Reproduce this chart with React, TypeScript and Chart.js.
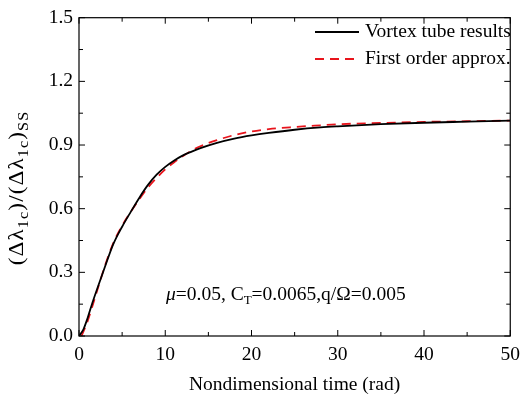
import React, { useEffect, useRef } from "react";
import { Chart, registerables } from "chart.js";

Chart.register(...registerables);

// Nondimensional time (rad) and response for the vortex tube results
const timeVortex = [0, 0.5, 1, 1.5, 2, 3, 4, 5, 6, 7, 8, 9, 10, 11, 12, 13, 14, 16, 18, 20, 22, 25, 28, 30, 35, 40, 45, 50];
const vortexTube = [0, 0.03, 0.085, 0.15, 0.21, 0.325, 0.435, 0.515, 0.585, 0.652, 0.712, 0.76, 0.797, 0.826, 0.85, 0.868, 0.884, 0.91, 0.93, 0.945, 0.957, 0.972, 0.983, 0.988, 0.998, 1.005, 1.01, 1.015];

// First order approximation
const timeFirst = [0.3, 1, 2, 3, 4, 5, 6, 7, 8, 9, 10, 11, 12, 13, 14, 16, 18, 20, 22, 25, 28, 30, 35, 40, 45, 50];
const firstOrder = [0, 0.07, 0.2, 0.33, 0.44, 0.52, 0.585, 0.645, 0.7, 0.745, 0.785, 0.818, 0.846, 0.872, 0.893, 0.923, 0.947, 0.964, 0.975, 0.985, 0.993, 0.998, 1.004, 1.009, 1.012, 1.015];

const xMajorTicks = [0, 10, 20, 30, 40, 50];
const xMinorTicks = [5, 15, 25, 35, 45];
const yMajorTicks = [0, 0.3, 0.6, 0.9, 1.2, 1.5];
const yMinorTicks = [0.15, 0.45, 0.75, 1.05, 1.35];

const legendLabels = ["Vortex tube results", "First order approx."];

const FONT = '"Liberation Serif", "Times New Roman", serif';

type Piece = { t: string; sub?: boolean; italic?: boolean };

function piecesWidth(ctx: CanvasRenderingContext2D, pieces: Piece[], size: number, subSize: number) {
  let w = 0;
  for (const p of pieces) {
    ctx.font = `${p.italic ? "italic " : ""}${p.sub ? subSize : size}px ${FONT}`;
    w += ctx.measureText(p.t).width;
  }
  return w;
}

function drawPieces(ctx: CanvasRenderingContext2D, pieces: Piece[], size: number, subSize: number, subShift: number, x0: number, y0: number, center: boolean) {
  const fontFor = (p: Piece) => `${p.italic ? "italic " : ""}${p.sub ? subSize : size}px ${FONT}`;
  const w = piecesWidth(ctx, pieces, size, subSize);
  let x = center ? x0 - w / 2 : x0;
  ctx.textBaseline = "alphabetic";
  ctx.textAlign = "left";
  for (const p of pieces) {
    ctx.font = fontFor(p);
    ctx.fillText(p.t, x, y0 + (p.sub ? subShift : 0));
    x += ctx.measureText(p.t).width;
  }
}

const framePlugin = {
  id: "framePlugin",
  afterDraw(chart: any) {
    const { ctx, chartArea } = chart;
    const xs = chart.scales.x;
    const ys = chart.scales.y;
    const { left, right, top, bottom } = chartArea;
    ctx.save();
    ctx.strokeStyle = "#000";
    ctx.lineWidth = 1.2;
    ctx.strokeRect(left, top, right - left, bottom - top);
    ctx.lineWidth = 1;
    const tick = (x1: number, y1: number, x2: number, y2: number) => {
      ctx.beginPath();
      ctx.moveTo(x1, y1);
      ctx.lineTo(x2, y2);
      ctx.stroke();
    };
    const maj = 6, min = 4;
    xMajorTicks.forEach((v) => {
      const p = xs.getPixelForValue(v);
      tick(p, bottom, p, bottom - maj);
      tick(p, top, p, top + maj);
    });
    xMinorTicks.forEach((v) => {
      const p = xs.getPixelForValue(v);
      tick(p, bottom, p, bottom - min);
      tick(p, top, p, top + min);
    });
    yMajorTicks.forEach((v) => {
      const p = ys.getPixelForValue(v);
      tick(left, p, left + maj, p);
      tick(right, p, right - maj, p);
    });
    yMinorTicks.forEach((v) => {
      const p = ys.getPixelForValue(v);
      tick(left, p, left + min, p);
      tick(right, p, right - min, p);
    });

    ctx.fillStyle = "#000";
    // x axis title
    ctx.font = `19.5px ${FONT}`;
    ctx.textAlign = "center";
    ctx.textBaseline = "middle";
    ctx.fillText("Nondimensional time (rad)", (left + right) / 2, 385);

    // y axis title (rotated)
    const yTitle: Piece[] = [
      { t: "(Δλ" },
      { t: "1c", sub: true },
      { t: ")/(Δλ" },
      { t: "1c", sub: true },
      { t: ")" },
      { t: "SS", sub: true },
    ];
    ctx.save();
    ctx.translate(23, 188);
    ctx.rotate(-Math.PI / 2);
    (ctx as any).letterSpacing = "1px";
    const baseW = piecesWidth(ctx, yTitle, 20, 14);
    const sx = Math.min(1.15, Math.max(1, 172 / baseW));
    ctx.scale(sx, 1);
    drawPieces(ctx, yTitle, 20, 14, 5, 0, 0, true);
    (ctx as any).letterSpacing = "0px";
    ctx.restore();

    // annotation
    drawPieces(
      ctx,
      [
        { t: "μ", italic: true },
        { t: "=0.05, C" },
        { t: "T", sub: true },
        { t: "=0.0065,q/Ω=0.005" },
      ],
      19.5, 13, 4, 166, 300, false
    );

    // legend
    const lx1 = 315, lx2 = 359, tx = 365;
    const rows = [32, 59];
    ctx.lineWidth = 1.8;
    ctx.strokeStyle = "#000";
    ctx.setLineDash([]);
    tick(lx1, rows[0], lx2, rows[0]);
    ctx.strokeStyle = "#e8141c";
    ctx.setLineDash([9, 6]);
    tick(lx1, rows[1], lx2, rows[1]);
    ctx.setLineDash([]);
    ctx.font = `19.5px ${FONT}`;
    ctx.textAlign = "left";
    ctx.textBaseline = "middle";
    ctx.fillText(legendLabels[0], tx, rows[0]);
    ctx.fillText(legendLabels[1], tx, rows[1]);
    ctx.restore();
  },
};

export default function App() {
  const ref = useRef<HTMLCanvasElement | null>(null);
  useEffect(() => {
    if (!ref.current) return;
    const chart = new Chart(ref.current, {
      type: "scatter",
      data: {
        datasets: [
          {
            label: legendLabels[0],
            data: timeVortex.map((t, i) => ({ x: t, y: vortexTube[i] })),
            showLine: true,
            borderColor: "#000",
            borderWidth: 1.8,
            pointRadius: 0,
            cubicInterpolationMode: "monotone",
          },
          {
            label: legendLabels[1],
            data: timeFirst.map((t, i) => ({ x: t, y: firstOrder[i] })),
            showLine: true,
            borderColor: "#e8141c",
            borderWidth: 1.8,
            borderDash: [9, 6],
            pointRadius: 0,
            cubicInterpolationMode: "monotone",
          },
        ],
      },
      options: {
        animation: false,
        responsive: false,
        maintainAspectRatio: false,
        layout: { padding: { top: 11, right: 11, left: 0, bottom: 0 } },
        plugins: { legend: { display: false }, tooltip: { enabled: false } },
        scales: {
          x: {
            type: "linear",
            min: 0,
            max: 50,
            grid: { display: false, drawTicks: false },
            border: { display: false },
            ticks: {
              stepSize: 10,
              padding: 7,
              color: "#000",
              font: { family: FONT, size: 19.5 },
              maxRotation: 0,
            },
            afterFit: (s: any) => {
              s.height = 401 - 336;
            },
          },
          y: {
            type: "linear",
            min: 0,
            max: 1.5,
            grid: { display: false, drawTicks: false },
            border: { display: false },
            ticks: {
              stepSize: 0.3,
              padding: 6,
              color: "#000",
              font: { family: FONT, size: 19.5 },
              callback: (v: any) => Number(v).toFixed(1),
            },
            afterFit: (s: any) => {
              s.width = 79;
            },
          },
        },
      },
      plugins: [framePlugin],
    });
    return () => chart.destroy();
  }, []);
  return (
    <div style={{ position: "fixed", left: 0, top: 0, width: 527, height: 401, background: "#fff" }}>
      <canvas ref={ref} width={527} height={401} style={{ width: 527, height: 401 }} />
    </div>
  );
}
